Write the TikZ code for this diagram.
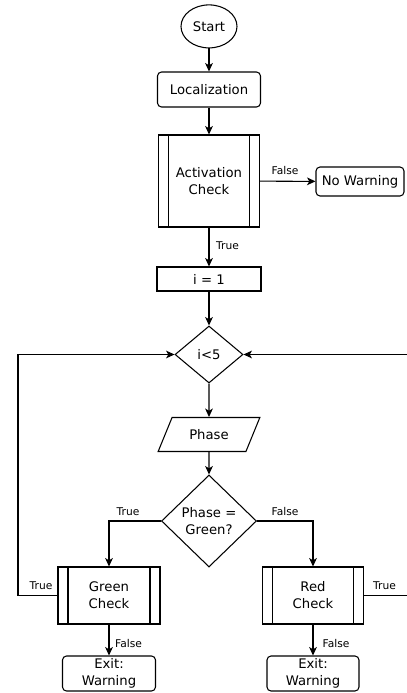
\documentclass[tikz,border=0pt]{standalone}
\usepackage{fontspec}
\setmainfont{DejaVu Sans}
\usepackage{tikz}
\usetikzlibrary{shapes.geometric,arrows.meta}

\begin{document}
\begin{tikzpicture}[>={Stealth[length=6pt,width=5.5pt,inset=1.6pt]}, line width=0.75pt]
				\tikzstyle{every node}=[font=\fontsize{9.4pt}{12pt}\selectfont, align=center, inner sep=0pt];
				\tikzstyle{term}=[draw, shape=ellipse, minimum width=1.4cm, minimum height=1.075cm];
				\tikzstyle{proc}=[draw, rectangle, rounded corners=0.1cm, minimum height=0.875cm];
				\tikzstyle{plain}=[draw, rectangle, minimum height=0.6cm];
				\tikzstyle{decide}=[draw, shape=diamond];
				\tikzstyle{io}=[draw, shape=trapezium, trapezium left angle=54, trapezium right angle=126, trapezium stretches=true, minimum width=2.55cm, minimum height=0.85cm];
				\tikzstyle{subproc}=[draw, rectangle, path picture={
					\draw ([xshift=0.25cm]path picture bounding box.north west) -- ([xshift=0.25cm]path picture bounding box.south west);
					\draw ([xshift=-0.25cm]path picture bounding box.north east) -- ([xshift=-0.25cm]path picture bounding box.south east);}];
				\tikzstyle{lbl}=[font=\fontsize{7.6pt}{9pt}\selectfont];
				\useasboundingbox (-5.225,0) rectangle (4.925,-17.325);
				\node [term] (start) at (0, -0.66) {Start};
				\node [proc, minimum width=2.575cm] (loc) at (0, -2.2375) {Localization};
				\node [subproc, minimum width=2.525cm, minimum height=2.3cm] (act) at (0, -4.525) {Activation\\Check};
				\node [proc, minimum width=2.2cm, minimum height=0.725cm] (nowarn) at (3.775, -4.5375) {No Warning};
				\node [plain, minimum width=2.6cm] (init) at (0, -6.975) {i = 1};
				\node [decide, minimum width=1.7cm, minimum height=1.425cm] (loop) at (0, -8.8625) {i<5};
				\node [io] (phase) at (0, -10.8625) {Phase};
				\node [decide, minimum width=2.375cm, minimum height=2.3cm] (green) at (0, -13.025) {Phase =\\Green?};
				\node [subproc, minimum width=2.55cm, minimum height=1.425cm] (gchk) at (-2.5, -14.8875) {Green\\Check};
				\node [subproc, minimum width=2.525cm, minimum height=1.425cm] (rchk) at (2.6, -14.8875) {Red\\Check};
				\node [proc, minimum width=2.325cm] (gexit) at (-2.5, -16.8375) {Exit:\\Warning};
				\node [proc, minimum width=2.3cm] (rexit) at (2.6, -16.8375) {Exit:\\Warning};
				\coordinate (lft) at (-4.775, -14.8875);
				\coordinate (rgt) at (5.05, -14.8875);
				\draw[->] (start) -- (loc);
				\draw[->] (loc) -- (act);
				\draw[->] (act) -- (nowarn);
				\draw[->] (act) -- (init);
				\draw[->] (init) -- (loop);
				\draw[->] (loop) -- (phase);
				\draw[->] (phase) -- (green);
				\draw[->] (green.west) -| (gchk.north);
				\draw[->] (green.east) -| (rchk.north);
				\draw[->] (gchk) -- (gexit);
				\draw[->] (rchk) -- (rexit);
				\draw[->] (gchk.west) -- (lft) |- (loop.west);
				\draw[->] (rchk.east) -- (rgt) |- (loop.east);
				\node [lbl] (t01) at (1.9, -4.275) {False};
				\node [lbl] (t02) at (0.4625, -6.15) {True};
				\node [lbl] (t03) at (-2.025, -12.79) {True};
				\node [lbl] (t04) at (1.9, -12.79) {False};
				\node [lbl] (t05) at (-4.2, -14.65) {True};
				\node [lbl] (t06) at (4.3875, -14.65) {True};
				\node [lbl] (t07) at (-2.0125, -16.0875) {False};
				\node [lbl] (t08) at (3.175, -16.0875) {False};
			\end{tikzpicture}
\end{document}
